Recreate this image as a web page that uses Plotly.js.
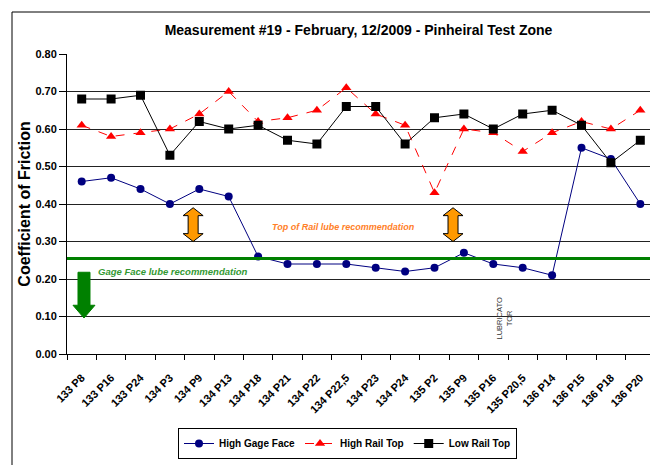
<!DOCTYPE html>
<html>
<head>
<meta charset="utf-8">
<script src="https://cdn.plot.ly/plotly-3.0.1.min.js"></script>
<style>html,body{margin:0;padding:0;background:#fff;}#chart{width:650px;height:465px;}</style>
</head>
<body>
<div id="chart"></div>
<script>
const categories = ["133 P8","133 P16","133 P24","134 P3","134 P9","134 P13","134 P18","134 P21","134 P22","134 P22,5","134 P23","134 P24","135 P2","135 P9","135 P16","135 P20,5","136 P14","136 P15","136 P18","136 P20"];
const highGageFace = [0.46,0.47,0.44,0.40,0.44,0.42,0.26,0.24,0.24,0.24,0.23,0.22,0.23,0.27,0.24,0.23,0.21,0.55,0.52,0.40];
const highRailTop  = [0.61,0.58,0.59,0.60,0.64,0.70,0.62,0.63,0.65,0.71,0.64,0.61,0.43,0.60,0.59,0.54,0.59,0.62,0.60,0.65];
const lowRailTop   = [0.68,0.68,0.69,0.53,0.62,0.60,0.61,0.57,0.56,0.66,0.66,0.56,0.63,0.64,0.60,0.64,0.65,0.61,0.51,0.57];
const yTicks = [0,0.1,0.2,0.3,0.4,0.5,0.6,0.7,0.8];
const gageFaceLimit = 0.255;

const sans = '"Liberation Sans", Arial, sans-serif';

const traces = [
  {name:'High Gage Face', x:categories, y:highGageFace, type:'scatter', mode:'lines+markers',
   line:{color:'#000080', width:1}, marker:{symbol:'circle', size:8, color:'#000080'}},
  {name:'High Rail Top', x:categories, y:highRailTop, type:'scatter', mode:'lines+markers',
   line:{color:'#FF0000', width:1, dash:'dash'}, marker:{symbol:'triangle-up', size:9, color:'#FF0000'}},
  {name:'Low Rail Top', x:categories, y:lowRailTop, type:'scatter', mode:'lines+markers',
   line:{color:'#000000', width:1}, marker:{symbol:'square', size:9, color:'#000000'}}
];

function dblArrow(xc){
  return {type:'path', xref:'x', yref:'y', xsizemode:'pixel', xanchor:xc,
    path:'M 0,0.39 L 10,0.369 L 5,0.369 L 5,0.321 L 10,0.321 L 0,0.30 L -10,0.321 L -5,0.321 L -5,0.369 L -10,0.369 Z',
    fillcolor:'#FF9900', line:{color:'#000000', width:1}};
}

const layout = {
  width:650, height:465,
  margin:{l:67, r:0, t:54, b:111},
  paper_bgcolor:'#ffffff', plot_bgcolor:'#ffffff',
  showlegend:true,
  title:{text:'<b>Measurement #19 - February, 12/2009 - Pinheiral Test Zone</b>',
    font:{family:sans, size:14, color:'#000'}, x:0.5, xref:'paper', xanchor:'center', y:1-30/465, yanchor:'middle'},
  xaxis:{type:'category', range:[-0.5, 19.33], tickangle:-45, ticks:'outside', tickson:'boundaries',
    ticklen:5, tickcolor:'#000', showline:true, linecolor:'#000', linewidth:1, showgrid:false,
    ticklabelstandoff:12,
    tickfont:{family:sans, size:11, color:'#000', weight:'bold'}, fixedrange:true},
  yaxis:{range:[0,0.8], tickvals:yTicks, tickformat:'.2f', ticks:'outside', ticklen:7, tickcolor:'#000',
    showline:true, linecolor:'#000', linewidth:1, showgrid:true, gridcolor:'#222', gridwidth:1, zeroline:false,
    tickfont:{family:sans, size:11, color:'#000', weight:'bold'},
    title:{text:'<b>Coefficient of Friction</b>', font:{family:sans, size:16, color:'#000'}, standoff:0}},
  legend:{orientation:'h', x:(347.5-67)/583, xanchor:'center', y:(354-428)/300, yanchor:'top',
    bordercolor:'#000', borderwidth:1, bgcolor:'#fff',
    font:{family:sans, size:10, color:'#000', weight:'bold'}, itemwidth:30, tracegroupgap:0},
  shapes:[
    {type:'line', xref:'paper', yref:'y', x0:0, x1:1, y0:gageFaceLimit, y1:gageFaceLimit, line:{color:'#008000', width:3}},
    dblArrow(3.79), dblArrow(12.63),
    {type:'path', xref:'x', yref:'y', xsizemode:'pixel', xanchor:0.078,
     path:'M -6,0.218 L 6,0.218 L 6,0.13 L 11,0.13 L 0,0.096 L -11,0.13 L -6,0.13 Z',
     fillcolor:'#008000', line:{color:'#008000', width:1}},
    {type:'rect', xref:'paper', yref:'paper', x0:(12-67)/583, x1:1.2, y0:-0.6, y1:(354-12)/300,
     line:{color:'#000', width:1}, fillcolor:'rgba(0,0,0,0)', layer:'above'}
  ],
  annotations:[
    {text:'<b><i>Top of Rail lube recommendation</i></b>', xref:'x', yref:'y', x:6.41, xanchor:'left', y:0.339, showarrow:false,
     font:{family:sans, size:9, color:'#FF8028'}},
    {text:'<b><i>Gage Face lube recommendation</i></b>', xref:'x', yref:'y', x:0.5, xanchor:'left', y:0.219, showarrow:false,
     font:{family:sans, size:9.5, color:'#339933'}},
    {text:'LUBRICATO<br>TOR', xref:'x', yref:'y', x:14.38, y:0.096, showarrow:false, textangle:-90,
     font:{family:sans, size:7.5, color:'#333'}}
  ]
};

Plotly.newPlot('chart', traces, layout, {displayModeBar:false, staticPlot:true});
</script>
</body>
</html>
